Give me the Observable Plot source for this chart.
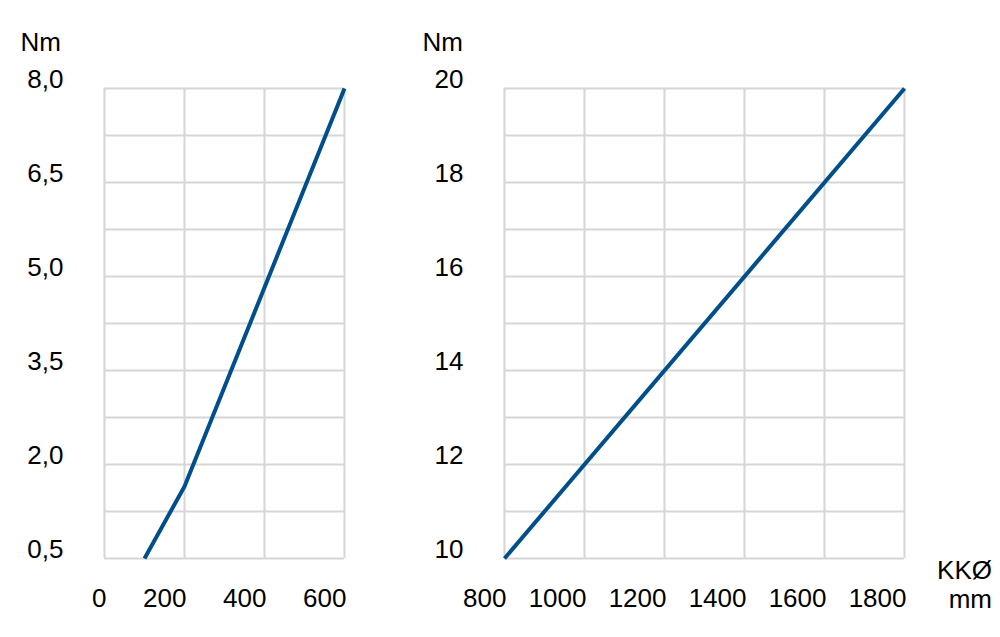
<!DOCTYPE html>
<html>
<head>
<meta charset="utf-8">
<script src="https://cdn.jsdelivr.net/npm/d3@7"></script>
<script src="https://cdn.jsdelivr.net/npm/@observablehq/plot@0.6"></script>
<style>
  html, body { margin: 0; padding: 0; background: #fff; }
  #wrap { position: relative; width: 1000px; height: 637px; font-family: "Liberation Sans", Arial, Helvetica, sans-serif; color: #000; }
  .lbl { position: absolute; font-size: 26px; line-height: 1; text-align: right; white-space: nowrap; }
  .panel { position: absolute; top: 0; }
</style>
</head>
<body>
<div id="wrap">
  <div id="left" class="panel" style="left:0"></div>
  <div id="right" class="panel" style="left:400px"></div>
  <div class="lbl" style="right:939px; top:29px;">Nm</div>
  <div class="lbl" style="right:537px; top:29px;">Nm</div>
  <div class="lbl" style="right:8px; top:557px;">KKØ</div>
  <div class="lbl" style="right:8px; top:586px;">mm</div>
</div>
<script>
// Left chart data
const leftX = [100, 200, 600];
const leftY = [0.5, 1.65, 8.0];
const leftXTicks = [0, 200, 400, 600];
const leftYTicks = [0.5, 2.0, 3.5, 5.0, 6.5, 8.0];
const leftYGrid = [0.5, 1.25, 2.0, 2.75, 3.5, 4.25, 5.0, 5.75, 6.5, 7.25, 8.0];

// Right chart data
const rightX = [800, 1800];
const rightY = [10, 20];
const rightXTicks = [800, 1000, 1200, 1400, 1600, 1800];
const rightYTicks = [10, 12, 14, 16, 18, 20];
const rightYGrid = [10, 11, 12, 13, 14, 15, 16, 17, 18, 19, 20];

const lineColor = "#004f8b";
const gridColor = "#d6d6d6";
const font = "26px 'Liberation Sans', Arial, Helvetica, sans-serif";

function panel({xs, ys, xTicks, yTicks, yGrid, xDomain, yDomain, width, marginRight, yFmt}) {
  const data = xs.map((x, i) => ({x, y: ys[i]}));
  return Plot.plot({
    width, height: 637,
    marginLeft: 104, marginRight, marginTop: 88, marginBottom: 79,
    style: {font, color: "#000", background: "transparent", overflow: "visible"},
    x: {domain: xDomain, axis: null},
    y: {domain: yDomain, axis: null},
    marks: [
      Plot.gridX(xTicks, {stroke: gridColor, strokeOpacity: 1, strokeWidth: 2}),
      Plot.gridY(yGrid, {stroke: gridColor, strokeOpacity: 1, strokeWidth: 2}),
      Plot.axisX(xTicks, {tickSize: 0, tickPadding: 30, textAnchor: "end", dx: 2, tickFormat: d => String(d), label: null, fill: "#000"}),
      Plot.axisY(yTicks, {tickSize: 0, tickPadding: 41, tickFormat: yFmt, dy: -9, label: null, fill: "#000"}),
      Plot.line(data, {x: "x", y: "y", stroke: lineColor, strokeWidth: 4, strokeLinecap: "butt"})
    ]
  });
}

document.getElementById("left").append(panel({
  xs: leftX, ys: leftY, xTicks: leftXTicks, yTicks: leftYTicks, yGrid: leftYGrid,
  xDomain: [0, 600], yDomain: [0.5, 8], width: 400, marginRight: 56,
  yFmt: d => d.toFixed(1).replace(".", ",")
}));
document.getElementById("right").append(panel({
  xs: rightX, ys: rightY, xTicks: rightXTicks, yTicks: rightYTicks, yGrid: rightYGrid,
  xDomain: [800, 1800], yDomain: [10, 20], width: 600, marginRight: 96,
  yFmt: d => String(d)
}));
</script>
</body>
</html>
